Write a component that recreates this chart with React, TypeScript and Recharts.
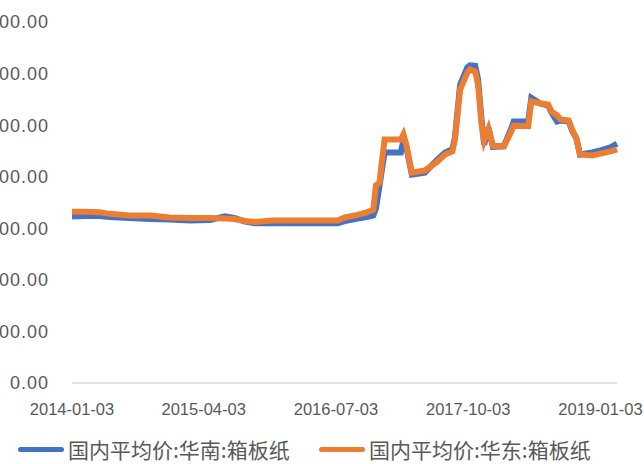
import { LineChart, Line, XAxis, YAxis, Legend } from "recharts";

const dates = [
  "2014-01-03", "2014-02-15", "2014-04-08", "2014-05-12", "2014-07-20", "2014-09-30",
  "2014-12-06", "2015-02-15", "2015-04-25", "2015-06-15", "2015-07-18", "2015-08-24",
  "2015-09-27", "2015-11-27", "2016-03-01", "2016-07-09", "2016-08-03", "2016-09-15",
  "2016-10-18", "2016-11-09", "2016-11-18", "2016-11-30", "2016-12-18", "2017-02-12",
  "2017-02-21", "2017-03-03", "2017-03-22", "2017-05-06", "2017-06-18", "2017-07-15",
  "2017-08-09", "2017-08-18", "2017-09-05", "2017-09-30", "2017-10-09", "2017-10-27",
  "2017-11-06", "2017-11-18", "2017-11-27", "2017-12-12", "2017-12-27", "2018-02-03",
  "2018-02-27", "2018-03-09", "2018-04-28", "2018-05-09", "2018-06-09", "2018-07-06",
  "2018-07-18", "2018-08-06", "2018-08-18", "2018-09-15", "2018-09-27", "2018-10-12",
  "2018-10-24", "2018-12-06", "2019-01-03", "2019-02-06", "2019-03-01",
];

// 国内平均价:华南:箱板纸
const south = [
  3230, 3240, 3240, 3220, 3200, 3180, 3170, 3150, 3160, 3230, 3200, 3130,
  3100, 3100, 3100, 3100, 3140, 3190, 3220, 3250, 3380, 3810, 4470, 4470,
  4700, 4580, 4040, 4080, 4330, 4470, 4530, 4760, 5790, 6120, 6160, 6150,
  5890, 5110, 4620, 4950, 4580, 4590, 4910, 5070, 5070, 5530, 5420, 5380,
  5240, 5070, 5090, 5070, 4890, 4740, 4430, 4470, 4510, 4570, 4640,
];

// 国内平均价:华东:箱板纸
const east = [
  3320, 3320, 3310, 3280, 3250, 3250, 3210, 3200, 3200, 3190, 3180, 3140,
  3120, 3150, 3150, 3150, 3210, 3260, 3310, 3360, 3830, 3880, 4720, 4720,
  4820, 4620, 4080, 4120, 4290, 4430, 4490, 4720, 5690, 6020, 6080, 6040,
  5790, 5010, 4700, 4930, 4600, 4590, 4860, 4990, 4980, 5460, 5420, 5400,
  5260, 5190, 5110, 5090, 4910, 4740, 4430, 4410, 4450, 4490, 4530,
];

const xTicks = ["2014-01-03", "2015-04-03", "2016-07-03", "2017-10-03", "2019-01-03"];
const yTicks = [0, 1000, 2000, 3000, 4000, 5000, 6000, 7000];

const seriesNames = ["国内平均价:华南:箱板纸", "国内平均价:华东:箱板纸"];
const colors = ["#4472C4", "#ED7D31"];

const data = dates.map((d, i) => ({
  t: Date.parse(d),
  south: south[i],
  east: east[i],
}));

const fmtDate = (t: number) => new Date(t).toISOString().slice(0, 10);

function LegendBox() {
  return (
    <div
      style={{
        height: 41,
        position: "relative",
        fontFamily: "'Noto Sans CJK SC', sans-serif",
        fontSize: 21,
        color: "#595959",
      }}
    >
      {seriesNames.map((name, i) => (
        <div
          key={name}
          style={{
            position: "absolute",
            left: i === 0 ? 18 : 319,
            top: 12,
            display: "flex",
            alignItems: "center",
            whiteSpace: "nowrap",
            lineHeight: "28px",
          }}
        >
          <span
            style={{
              display: "inline-block",
              width: 46,
              height: 5,
              borderRadius: 3,
              background: colors[i],
              marginRight: 4,
            }}
          />
          {name}
        </div>
      ))}
    </div>
  );
}

export default function App() {
  return (
    <div style={{ position: "absolute", left: 0, top: 0, width: 644, height: 464, background: "#fff" }}>
      <LineChart
        width={644}
        height={464}
        data={data}
        margin={{ top: 22, right: 27, left: 0, bottom: 0 }}
      >
        <XAxis
          dataKey="t"
          type="number"
          domain={["dataMin", "dataMax"]}
          ticks={xTicks.map((d) => Date.parse(d))}
          tickFormatter={fmtDate}
          height={40}
          tickSize={0}
          tickMargin={20}
          axisLine={{ stroke: "#D9D9D9", strokeWidth: 1.5 }}
          tick={{ fill: "#595959", fontSize: 16.5, fontFamily: "'Liberation Sans', sans-serif" }}
          interval={0}
        />
        <YAxis
          width={72}
          domain={[0, 7000]}
          ticks={yTicks}
          tickFormatter={(v: number) => v.toFixed(2)}
          axisLine={false}
          tickLine={false}
          tickSize={0}
          tickMargin={23}
          interval={0}
          tick={{ fill: "#595959", fontSize: 18, letterSpacing: 1, fontFamily: "'Liberation Sans', sans-serif" }}
        />
        <Legend
          verticalAlign="bottom"
          content={() => <LegendBox />}
          wrapperStyle={{ left: 0, width: 644, bottom: 0 }}
        />
        <Line
          type="linear"
          dataKey="south"
          name={seriesNames[0]}
          stroke={colors[0]}
          strokeWidth={6}
          dot={false}
          activeDot={false}
          isAnimationActive={false}
        />
        <Line
          type="linear"
          dataKey="east"
          name={seriesNames[1]}
          stroke={colors[1]}
          strokeWidth={6}
          dot={false}
          activeDot={false}
          isAnimationActive={false}
        />
      </LineChart>
    </div>
  );
}
